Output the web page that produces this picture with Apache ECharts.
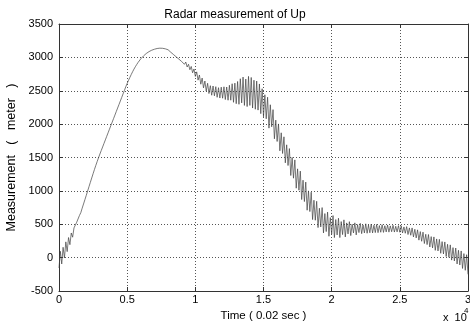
<!DOCTYPE html>
<html><head><meta charset="utf-8">
<script src="https://cdn.jsdelivr.net/npm/echarts@6/dist/echarts.min.js"></script>
<style>html,body{margin:0;padding:0;background:#fff}#c{width:470px;height:324px}</style>
</head><body><div id="c"></div>
<script>
const titleText = 'Radar measurement of Up';
const xAxisName = 'Time ( 0.02 sec )';
const yAxisName = 'Measurement   (   meter   )';
const xScaleNote = 'x  10';
const xScaleExp = '4';
const xTicks = [0, 0.5, 1, 1.5, 2, 2.5, 3];
const yTicks = [-500, 0, 500, 1000, 1500, 2000, 2500, 3000, 3500];
const sampleStep = 0.01; // time between listed samples, in units of 10^4 x 0.02 s

const rise = [-155, 95, -95, 155, -5, 236, 90, 301, 194, 369, 306, 445, 426, 531, 548, 631, 674, 741, 804, 868,
  933, 998, 1063, 1128, 1193, 1257, 1320, 1381, 1440, 1497,
  1552, 1605, 1658, 1711, 1764, 1817, 1870, 1923, 1976, 2029, 2082, 2135, 2188, 2241, 2294, 2347, 2400, 2453, 2506];
const peak = [2561, 2609, 2656, 2701, 2744, 2785, 2824, 2860, 2893, 2924, 2952, 2978, 3001, 3022, 3041, 3058,
  3073, 3086, 3097, 3107, 3115, 3122, 3128, 3133, 3136, 3138, 3138, 3136, 3133, 3128, 3122, 3114];
const shoulder = [3106, 3077, 3078, 3042, 3047, 3007, 3020, 2973, 2993, 2937, 2963, 2897, 2930, 2856, 2897, 2815,
  2864, 2769, 2826, 2715, 2783, 2659, 2736, 2598, 2690, 2543, 2646, 2494, 2612, 2458, 2576, 2433, 2571, 2424,
  2561, 2402, 2546, 2391, 2554, 2388, 2559, 2368, 2556, 2358, 2582, 2358, 2605, 2327, 2614, 2306, 2639, 2297,
  2680, 2318, 2705, 2280, 2675, 2263, 2715, 2280, 2699, 2241, 2658, 2223, 2645, 2210, 2602, 2157, 2530, 2110];
const fall = [2440, 2080, 2403, 1940, 2290, 1960, 2217, 1780, 2060, 1740, 2003, 1600, 1870, 1560, 1810, 1420,
  1690, 1380, 1634, 1230, 1500, 1190, 1464, 1040, 1330, 1010, 1296, 870, 1160, 840, 1132, 710, 1000, 690,
  980, 570, 860, 560, 844, 450, 740, 460, 750, 370, 660, 390, 682, 320, 600, 350];
const plateau = [630, 300, 570, 340, 590, 300, 540, 345, 566, 310, 520, 355, 539, 330, 500, 370, 521, 340, 495, 375,
  513, 359, 490, 370, 507, 365, 488, 372, 502, 370, 485, 375, 497, 374, 480, 380, 493, 378, 478, 385,
  489, 382, 475, 388, 485, 383, 470, 386, 479, 380];
const tail = [477, 370, 460, 365, 465, 346, 445, 335, 445, 310, 425, 295, 416, 262, 390, 245, 382, 211, 350, 195,
  346, 159, 315, 145, 310, 109, 280, 100, 274, 65, 240, 55, 235, 17, 200, 5, 191, -37, 150, -50,
  144, -95, 110, -110, 100, -162, 60, -190, 44, -250];

const measurement = [].concat(rise, peak, shoulder, fall, plateau, tail);
const seriesData = measurement.map((v, i) => [i * sampleStep, v]);

const font = "'Liberation Sans', Arial, sans-serif";
const chart = echarts.init(document.getElementById('c'), null, {renderer: 'canvas'});
const gridLine = {show: true, lineStyle: {color: '#555', width: 1, type: [1, 2]}};
const axisLine = {show: true, onZero: false, lineStyle: {color: '#333', width: 1}};
const tick = {show: true, inside: true, length: 4, lineStyle: {color: '#333'}};
const plain = v => String(v);
const xBase = {type: 'value', min: xTicks[0], max: xTicks[xTicks.length - 1], interval: xTicks[1] - xTicks[0]};
const yBase = {type: 'value', min: yTicks[0], max: yTicks[yTicks.length - 1], interval: yTicks[1] - yTicks[0]};
chart.setOption({
  animation: false,
  backgroundColor: '#fff',
  title: {text: titleText, left: 'center', top: 4, textStyle: {fontFamily: font, fontSize: 12, fontWeight: 'normal', color: '#000'}},
  grid: {left: 59, right: 2, top: 24, bottom: 33, containLabel: false, outerBoundsMode: 'none'},
  xAxis: [
    Object.assign({}, xBase, {position: 'bottom', name: xAxisName, nameLocation: 'middle', nameGap: 17,
      nameTextStyle: {fontFamily: font, fontSize: 11.5, color: '#000'},
      axisLine: axisLine, axisTick: tick,
      axisLabel: {fontFamily: font, fontSize: 11, color: '#000', margin: 3, formatter: plain},
      splitLine: gridLine}),
    Object.assign({}, xBase, {position: 'top', axisLine: axisLine, axisTick: tick,
      axisLabel: {show: false}, splitLine: {show: false}})
  ],
  yAxis: [
    Object.assign({}, yBase, {position: 'left', name: yAxisName, nameLocation: 'middle', nameGap: 40,
      nameTextStyle: {fontFamily: font, fontSize: 12.5, color: '#000'},
      axisLine: axisLine, axisTick: tick,
      axisLabel: {fontFamily: font, fontSize: 11, color: '#000', margin: 6, formatter: plain},
      splitLine: gridLine}),
    Object.assign({}, yBase, {position: 'right', axisLine: axisLine, axisTick: tick,
      axisLabel: {show: false}, splitLine: {show: false}})
  ],
  graphic: [
    {type: 'text', left: 443, top: 312, style: {text: xScaleNote, font: '11px ' + font, fill: '#000'}},
    {type: 'text', left: 464, top: 307, style: {text: xScaleExp, font: '8px ' + font, fill: '#000'}}
  ],
  series: [{
    type: 'line', data: seriesData, showSymbol: false, symbol: 'none',
    lineStyle: {color: '#404040', width: 0.7}, xAxisIndex: 0, yAxisIndex: 0
  }]
});
</script></body></html>
